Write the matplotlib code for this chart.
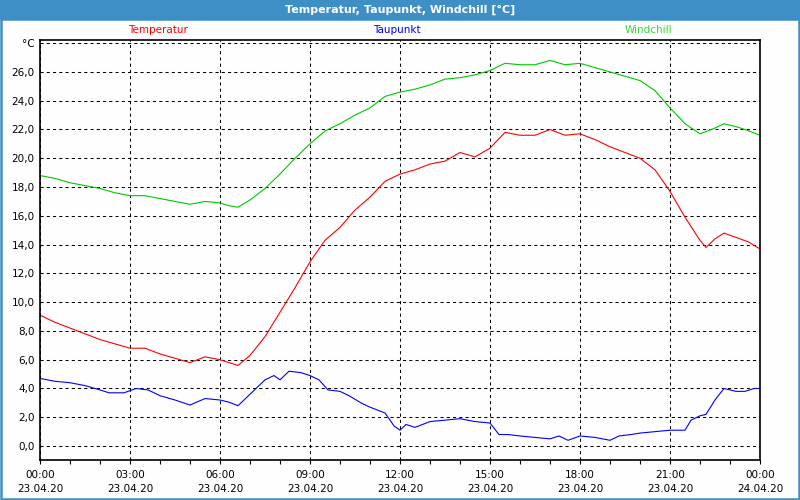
import matplotlib
matplotlib.use("Agg")
import matplotlib.pyplot as plt
from matplotlib.patches import Rectangle
from matplotlib.ticker import FuncFormatter, MultipleLocator

# stunden seit 23.04.20 00:00, werte in °C
temp_h = [0, 0.5, 1, 1.5, 2, 2.5, 3, 3.5, 4, 4.5, 5, 5.5, 6, 6.3, 6.6, 7, 7.5, 8, 8.5,
          9, 9.5, 10, 10.5, 11, 11.5, 12, 12.5, 13, 13.5, 14, 14.5, 15, 15.5, 16, 16.5,
          17, 17.5, 18, 18.5, 19, 19.5, 20, 20.5, 21, 21.5, 22, 22.2, 22.5, 22.8, 23.2,
          23.6, 24]
temp = [9.1, 8.6, 8.2, 7.8, 7.4, 7.1, 6.8, 6.8, 6.4, 6.1, 5.8, 6.2, 6.0, 5.8, 5.6, 6.3, 7.6,
        9.3, 11.0, 12.8, 14.3, 15.2, 16.4, 17.3, 18.4, 18.9, 19.2, 19.6, 19.8, 20.4, 20.1,
        20.7, 21.8, 21.6, 21.6, 22.0, 21.6, 21.7, 21.3, 20.8, 20.4, 20.0, 19.2, 17.7, 15.9,
        14.3, 13.8, 14.4, 14.8, 14.5, 14.2, 13.7]

dew_h = [0, 0.5, 1, 1.5, 2, 2.3, 2.8, 3.2, 3.6, 4, 4.5, 5, 5.5, 6, 6.3, 6.6, 7, 7.5, 7.8,
         8, 8.3, 8.7, 9, 9.3, 9.6, 10, 10.3, 10.7, 11, 11.5, 11.8, 12, 12.2, 12.5, 13,
         13.5, 14, 14.5, 15, 15.3, 15.6, 16, 16.5, 17, 17.3, 17.6, 18, 18.5, 19, 19.3,
         19.7, 20, 20.5, 21, 21.5, 21.7, 22, 22.2, 22.5, 22.8, 23.2, 23.5, 23.8, 24]
dew = [4.7, 4.5, 4.4, 4.2, 3.9, 3.7, 3.7, 4.0, 3.9, 3.5, 3.2, 2.85, 3.3, 3.2, 3.05, 2.8,
       3.6, 4.6, 4.9, 4.6, 5.2, 5.1, 4.9, 4.6, 3.9, 3.8, 3.5, 3.0, 2.7, 2.3, 1.4, 1.1, 1.5,
       1.3, 1.7, 1.8, 1.9, 1.7, 1.6, 0.8, 0.8, 0.7, 0.6, 0.5, 0.7, 0.4, 0.7, 0.6, 0.4, 0.7,
       0.8, 0.9, 1.0, 1.1, 1.1, 1.8, 2.1, 2.2, 3.2, 4.0, 3.8, 3.8, 4.0, 4.0]

wind_h = [0, 0.5, 1, 1.5, 2, 2.5, 3, 3.5, 4, 4.5, 5, 5.5, 6, 6.3, 6.6, 7, 7.5, 8, 8.5,
          9, 9.5, 10, 10.5, 11, 11.5, 12, 12.5, 13, 13.5, 14, 14.5, 15, 15.5, 16, 16.5,
          17, 17.5, 18, 18.5, 19, 19.5, 20, 20.5, 21, 21.5, 22, 22.5, 22.8, 23.2, 23.5, 24]
wind = [18.8, 18.6, 18.3, 18.1, 17.9, 17.6, 17.4, 17.4, 17.2, 17.0, 16.8, 17.0, 16.9, 16.7,
        16.6, 17.1, 17.9, 18.9, 20.0, 21.0, 21.9, 22.4, 23.0, 23.5, 24.3, 24.6, 24.8, 25.1,
        25.5, 25.6, 25.8, 26.1, 26.6, 26.5, 26.5, 26.8, 26.5, 26.6, 26.3, 26.0, 25.7, 25.4,
        24.7, 23.5, 22.4, 21.7, 22.1, 22.4, 22.2, 22.0, 21.6]

x_labels = ['00:00\n23.04.20', '03:00\n23.04.20', '06:00\n23.04.20', '09:00\n23.04.20',
            '12:00\n23.04.20', '15:00\n23.04.20', '18:00\n23.04.20', '21:00\n23.04.20',
            '00:00\n24.04.20']

frame_blue = '#3d8fc6'
plt.rcParams['font.family'] = ['DejaVu Sans']
plt.rcParams['font.size'] = 7.5

fig = plt.figure(figsize=(8, 5), dpi=100, facecolor='#fdfefd')

# fensterrahmen und titelleiste
fig.add_artist(Rectangle((0, 0.96), 1, 0.04, transform=fig.transFigure,
                         facecolor=frame_blue, edgecolor='none'))
fig.add_artist(Rectangle((0.001, 0.002), 0.998, 0.96, transform=fig.transFigure,
                         facecolor='none', edgecolor=frame_blue, linewidth=1.8))
fig.text(0.5, 0.981, 'Temperatur, Taupunkt, Windchill [°C]', color='white',
         fontsize=8, fontweight='bold', ha='center', va='center')

fig.text(158 / 800, 1 - 30 / 500, 'Temperatur', color='#ff0000', ha='center', va='center')
fig.text(397 / 800, 1 - 30 / 500, 'Taupunkt', color='#0000ff', ha='center', va='center')
fig.text(648 / 800, 1 - 30 / 500, 'Windchill', color='#33dd33', ha='center', va='center')

ax = fig.add_axes([40 / 800, 40 / 500, 720 / 800, 420 / 500])
ax.set_facecolor('#fdfefd')

ax.plot(temp_h, temp, color='#ff0000', lw=0.8)
ax.plot(dew_h, dew, color='#0000ff', lw=0.8)
ax.plot(wind_h, wind, color='#00c800', lw=0.8)

ax.set_xlim(0, 24)
ax.set_ylim(-0.97, 28.22)

ax.xaxis.set_major_locator(MultipleLocator(3))
ax.xaxis.set_minor_locator(MultipleLocator(1))
ax.set_xticks(range(0, 25, 3))
ax.set_xticklabels(x_labels, linespacing=1.55)
ax.set_yticks(range(0, 29, 2))
ax.yaxis.set_major_formatter(FuncFormatter(
    lambda v, p: '°C' if v >= 28 else f'{v:.1f}'.replace('.', ',')))

ax.tick_params(axis='x', which='both', direction='out', length=3, width=0.8, pad=4)
ax.tick_params(axis='y', length=0, pad=4)
ax.grid(True, which='major', color='black', linestyle=(0, (3, 3)), linewidth=0.75)
for s in ax.spines.values():
    s.set_linewidth(1.2)

fig.savefig('out.png', dpi=100, facecolor=fig.get_facecolor())
